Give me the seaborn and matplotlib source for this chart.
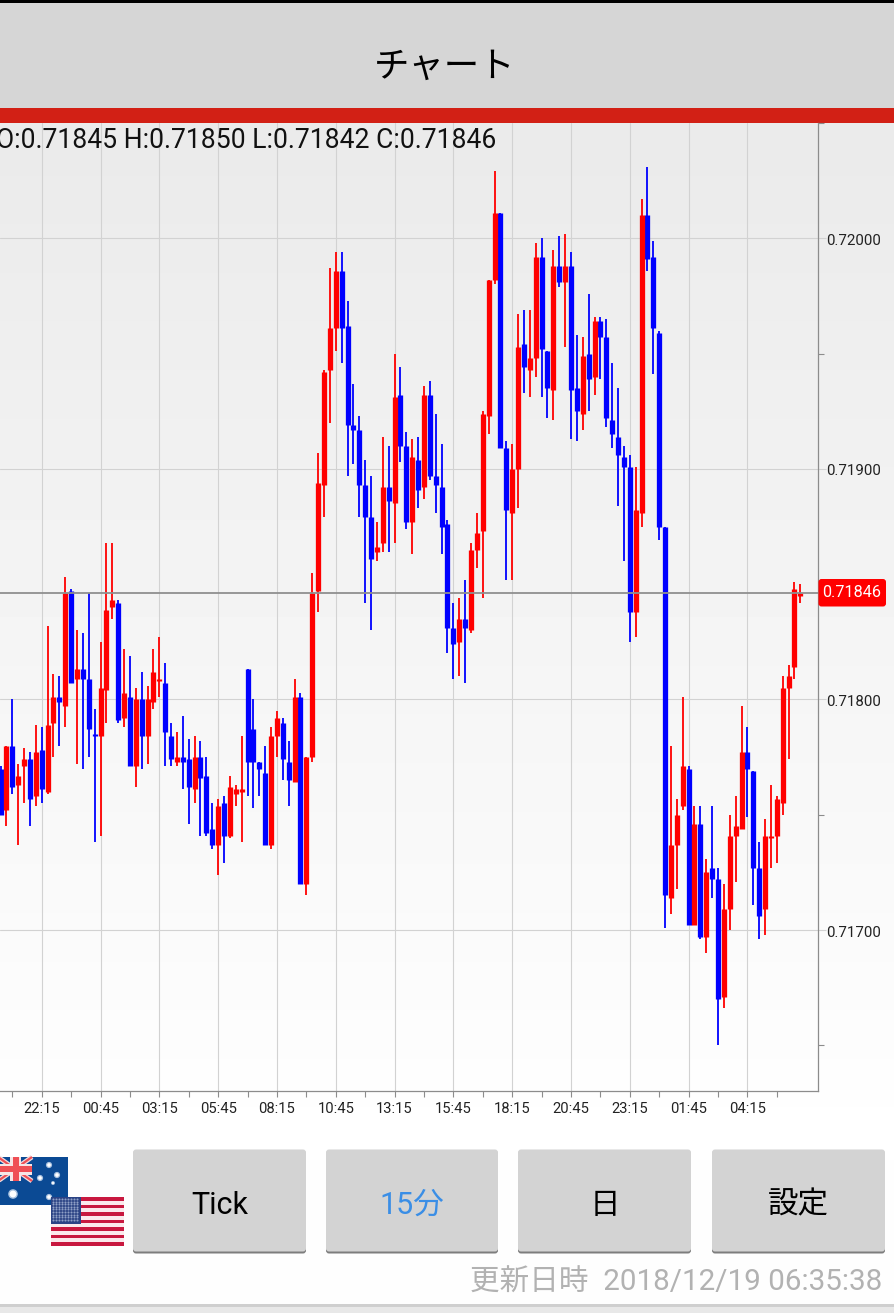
import numpy as np
import pandas as pd
import matplotlib
matplotlib.use("Agg")
import matplotlib.pyplot as plt
from matplotlib.patches import FancyBboxPatch, Rectangle
from matplotlib.transforms import ScaledTranslation
import seaborn as sns

# prices are kept in points (1 point = 0.00001)
opens = [71770, 71752, 71780, 71763, 71771, 71774, 71758,
         71778, 71760, 71790, 71801, 71797, 71847, 71809, 71813, 71809, 71785,
         71784, 71804, 71840, 71842, 71792, 71801, 71771, 71800, 71784, 71799,
         71808, 71807, 71784, 71773, 71775, 71774, 71761, 71775, 71767, 71744,
         71737, 71755, 71741, 71759, 71760, 71813, 71787, 71773, 71768, 71737,
         71784, 71790, 71773, 71764, 71801, 71720, 71775, 71847, 71893, 71943,
         71961, 71986, 71962, 71919, 71917, 71893, 71879, 71864, 71868, 71892,
         71885, 71932, 71910, 71877, 71904, 71892, 71932, 71897, 71892, 71876,
         71831, 71825, 71835, 71830, 71865, 71873, 71923, 71982, 72011, 71909,
         71881, 71900, 71954, 71943, 71948, 71992, 71951, 71934, 71988, 71981,
         71988, 71935, 71924, 71950, 71940, 71964, 71957, 71921, 71914, 71905,
         71901, 71838, 71881, 72010, 71992, 71959, 71875, 71714, 71737, 71754,
         71770, 71702, 71746, 71697, 71727, 71722, 71671, 71709, 71741, 71744,
         71777, 71769, 71727, 71709, 71740, 71741, 71755, 71805, 71814, 71845]
highs = [71771, 71780, 71800, 71772, 71779, 71777, 71789,
         71788, 71832, 71811, 71810, 71853, 71848, 71830, 71829, 71846, 71796,
         71825, 71868, 71868, 71843, 71822, 71819, 71805, 71812, 71806, 71822,
         71827, 71816, 71790, 71786, 71793, 71783, 71784, 71782, 71775, 71755,
         71757, 71758, 71767, 71763, 71784, 71813, 71800, 71773, 71780, 71788,
         71795, 71792, 71782, 71809, 71803, 71775, 71855, 71907, 71943, 71987,
         71994, 71994, 71973, 71937, 71923, 71904, 71897, 71877, 71914, 71910,
         71950, 71944, 71916, 71913, 71914, 71936, 71938, 71924, 71911, 71878,
         71842, 71844, 71852, 71868, 71881, 71925, 71982, 72029, 72011, 71912,
         71911, 71967, 71969, 71969, 71998, 72000, 71951, 71995, 72001, 72002,
         71994, 71958, 71957, 71976, 71966, 71966, 71965, 71946, 71935, 71910,
         71906, 71901, 72017, 72031, 71999, 71960, 71875, 71780, 71757, 71801,
         71771, 71754, 71754, 71731, 71754, 71727, 71720, 71750, 71758, 71797,
         71788, 71769, 71738, 71748, 71763, 71758, 71810, 71815, 71851, 71850]
lows = [71750, 71745, 71759, 71737, 71755, 71745, 71754,
        71755, 71759, 71775, 71780, 71788, 71807, 71772, 71770, 71775, 71738,
        71741, 71790, 71835, 71790, 71788, 71771, 71762, 71770, 71772, 71796,
        71801, 71771, 71771, 71771, 71761, 71746, 71755, 71741, 71741, 71735,
        71724, 71729, 71740, 71754, 71738, 71758, 71753, 71758, 71737, 71735,
        71775, 71765, 71754, 71764, 71720, 71715, 71773, 71838, 71879, 71920,
        71951, 71946, 71897, 71902, 71879, 71842, 71830, 71860, 71864, 71864,
        71868, 71903, 71874, 71863, 71883, 71887, 71895, 71881, 71863, 71820,
        71809, 71810, 71807, 71829, 71857, 71844, 71915, 71980, 71909, 71852,
        71852, 71883, 71933, 71931, 71940, 71931, 71922, 71921, 71979, 71953,
        71913, 71912, 71917, 71925, 71932, 71939, 71918, 71909, 71884, 71860,
        71825, 71827, 71875, 71986, 71941, 71869, 71701, 71707, 71718, 71752,
        71702, 71702, 71696, 71690, 71714, 71650, 71666, 71700, 71721, 71744,
        71749, 71711, 71696, 71698, 71727, 71729, 71750, 71774, 71809, 71842]
closes = [71750, 71780, 71762, 71767, 71774, 71757, 71777,
          71761, 71789, 71801, 71799, 71846, 71807, 71813, 71809, 71787, 71784,
          71805, 71839, 71843, 71791, 71803, 71771, 71800, 71784, 71800, 71812,
          71809, 71786, 71774, 71775, 71773, 71762, 71775, 71766, 71742, 71737,
          71754, 71741, 71762, 71761, 71761, 71773, 71773, 71770, 71737, 71784,
          71792, 71774, 71765, 71801, 71720, 71775, 71846, 71894, 71942, 71961,
          71986, 71961, 71919, 71917, 71893, 71879, 71861, 71866, 71892, 71886,
          71931, 71910, 71877, 71905, 71891, 71932, 71897, 71893, 71875, 71831,
          71824, 71835, 71831, 71865, 71872, 71924, 71982, 72011, 71909, 71882,
          71900, 71953, 71944, 71948, 71992, 71952, 71935, 71988, 71981, 71988,
          71934, 71925, 71949, 71939, 71964, 71957, 71922, 71915, 71906, 71901,
          71838, 71882, 72010, 71991, 71961, 71875, 71715, 71737, 71750, 71771,
          71702, 71746, 71697, 71725, 71722, 71670, 71709, 71741, 71745, 71777,
          71770, 71727, 71706, 71741, 71741, 71757, 71805, 71810, 71848, 71846]

first_index = -7
time_ticks = [0, 10, 20, 30, 40, 50, 60, 70, 80, 90, 100, 110, 120]
time_labels = ["22:15", "00:45", "03:15", "05:45", "08:15", "10:45", "13:15",
               "15:45", "18:15", "20:45", "23:15", "01:45", "04:15"]
minor_time_ticks = [-5, 5, 15, 25, 35, 45, 55, 65, 75, 85, 95, 105, 115, 125]
price_ticks = [0.72, 0.719, 0.718, 0.717]
price_labels = ["0.72000", "0.71900", "0.71800", "0.71700"]
minor_price_ticks = [0.7205, 0.7195, 0.7185, 0.7175, 0.7165]
last_price = 0.71846
ohlc_text = "O:0.71845 H:0.71850 L:0.71842 C:0.71846"

W, H = 895, 1313
RED = "#ff0000"
BLUE = "#0000ff"

sns.set_theme(style="white")
plt.rcParams["font.family"] = ["Roboto", "Noto Sans CJK JP", "DejaVu Sans"]


def candle_frames():
    df = pd.DataFrame({"o": opens, "h": highs, "l": lows, "c": closes}) / 1e5
    df["idx"] = np.arange(len(df)) + first_index
    df["dir"] = np.where(df["c"] >= df["o"], "up", "down")
    wicks = df.melt(id_vars=["idx", "dir"], value_vars=["h", "l"], value_name="price")
    bodies = df.melt(id_vars=["idx", "dir"], value_vars=["o", "c"], value_name="price")
    return wicks.sort_values("idx"), bodies.sort_values("idx")


def px_rect(ax, x0, y0, x1, y1, color, z=1):
    ax.add_patch(Rectangle((x0, y0), x1 - x0, y1 - y0, fc=color, ec="none", zorder=z))


def draw_button(ui, x0, x1, label, color="#000000"):
    ui.add_patch(FancyBboxPatch((x0, 1152), x1 - x0, 101.5, boxstyle="round,pad=0,rounding_size=3",
                                fc="#7d7d7d", ec="none", zorder=2))
    ui.add_patch(FancyBboxPatch((x0, 1149.5), x1 - x0, 102, boxstyle="round,pad=0,rounding_size=3",
                                fc="#d3d3d3", ec="none", zorder=3))
    ui.text((x0 + x1) / 2, 1205, label, color=color, fontsize=22, ha="center", va="center", zorder=4)


def draw_flags(ui):
    # australia
    px_rect(ui, 0, 1157, 68, 1205, "#0b4a94", 2)
    ui.plot([-2, 32], [1157, 1181], color="#f2dede", lw=3.4, zorder=3, solid_capstyle="butt")
    ui.plot([-2, 32], [1181, 1157], color="#f2dede", lw=3.4, zorder=3, solid_capstyle="butt")
    ui.plot([-2, 32], [1157, 1181], color="#ef4f55", lw=1.6, zorder=4, solid_capstyle="butt")
    ui.plot([-2, 32], [1181, 1157], color="#ef4f55", lw=1.6, zorder=4, solid_capstyle="butt")
    px_rect(ui, 10.5, 1157, 21.5, 1181, "#f7e6e6", 4)
    px_rect(ui, 0, 1163.5, 32, 1174.5, "#f7e6e6", 4)
    px_rect(ui, 13, 1157, 19, 1181, "#ef4f55", 5)
    px_rect(ui, 0, 1166, 32, 1172, "#ef4f55", 5)
    star_x, star_y = [49, 40, 57, 53, 49, 13], [1165, 1178, 1175, 1183, 1197, 1194]
    ui.scatter(star_x, star_y, s=[20, 20, 20, 8, 20, 48], color="#a9c2df", linewidths=0, zorder=3)
    ui.scatter(star_x, star_y, s=[7, 7, 7, 2.5, 7, 24], color="white", linewidths=0, zorder=3)
    # usa
    px_rect(ui, 51, 1197, 124, 1246, "#fbe9ec", 5)
    stripe_h = 49 / 13
    for i in range(0, 13, 2):
        px_rect(ui, 51, 1197 + i * stripe_h, 124, 1197 + (i + 1) * stripe_h, "#c8183f", 6)
    px_rect(ui, 51, 1197, 81, 1223.5, "#2b4385", 7)
    xs, ys = np.meshgrid(np.arange(53, 80, 3), np.arange(1199, 1222, 2.6))
    ui.scatter(xs.ravel(), ys.ravel(), s=2.2, color="#8f9fc6", linewidths=0, zorder=8)


fig = plt.figure(figsize=(W / 100, H / 100), dpi=100)
fig.patch.set_facecolor("#fefefe")

# page background and all the app chrome, in pixel coordinates
ui = fig.add_axes([0, 0, 1, 1], zorder=0)
ui.set_xlim(0, W)
ui.set_ylim(H, 0)
ui.axis("off")
shade = np.linspace(0.918, 1.0, 256).reshape(-1, 1)
ui.imshow(shade, cmap="gray", vmin=0, vmax=1, extent=(0, W, 1160, 123), aspect="auto", zorder=0)
ui.set_xlim(0, W)
ui.set_ylim(H, 0)
px_rect(ui, 0, 0, W, 3, "#000000")
px_rect(ui, 0, 3, W, 108, "#d6d6d6")
px_rect(ui, 0, 108, W, 123, "#d22015")
px_rect(ui, 0, 1304, W, 1307, "#cfcfcf")
px_rect(ui, 0, 1307, W, H, "#e8e8e8")
ui.text(445, 67, "チャート", color="#000000", fontsize=25.5, ha="center", va="center")
draw_flags(ui)
draw_button(ui, 133, 306, "Tick")
draw_button(ui, 326, 498, "15分", "#3a8ee6")
draw_button(ui, 518, 691, "日")
draw_button(ui, 712, 885, "設定")
ui.text(882, 1283, "更新日時  2018/12/19 06:35:38", color="#b2b2b2", fontsize=21.3, ha="right", va="center")

# chart axes spans x 0..818 and y 123..1091 on the page
ax = fig.add_axes([0, 1 - 1091 / H, 818 / W, (1091 - 123) / H], zorder=1)
ax.patch.set_alpha(0)

wicks, bodies = candle_frames()
palette = {"up": RED, "down": BLUE}
sns.lineplot(data=wicks, x="idx", y="price", hue="dir", units="idx", estimator=None, palette=palette,
             lw=1.3, legend=False, ax=ax, solid_capstyle="butt", zorder=3)
sns.lineplot(data=bodies, x="idx", y="price", hue="dir", units="idx", estimator=None, palette=palette,
             lw=3.8, legend=False, ax=ax, solid_capstyle="butt", zorder=3)

ax.set_xlim(-7.09, 132.0)
ax.set_ylim(0.716302, 0.720499)
ax.set_xlabel("")
ax.set_ylabel("")

ax.set_xticks(time_ticks)
ax.set_xticklabels(time_labels)
ax.set_xticks(minor_time_ticks, minor=True)
ax.yaxis.tick_right()
ax.set_yticks(price_ticks)
ax.set_yticklabels(price_labels)
ax.set_yticks(minor_price_ticks, minor=True)
ax.grid(True, which="major", color="#d2d2d2", lw=0.8, zorder=1)
ax.set_axisbelow(True)
ax.tick_params(axis="x", which="both", bottom=True, length=4, width=0.8, color="#8c8c8c", pad=4)
ax.tick_params(axis="x", which="major", labelsize=10.6, labelcolor="#222222")
ax.tick_params(axis="y", which="minor", right=True, length=4.5, width=0.8, color="#8c8c8c")
ax.tick_params(axis="y", which="major", right=True, labelsize=10.8, labelcolor="#222222",
               length=5.6, width=0.8, color="#d2d2d2", pad=0.2)
# price labels sit a pixel lower than their tick
nudge = ScaledTranslation(0, -1 / 100, fig.dpi_scale_trans)
for label in ax.get_yticklabels():
    label.set_transform(label.get_transform() + nudge)
for side in ["left", "top"]:
    ax.spines[side].set_visible(False)
for side in ["right", "bottom"]:
    ax.spines[side].set_color("#8c8c8c")
    ax.spines[side].set_linewidth(0.9)

ax.axhline(last_price, color="#8f8f8f", lw=1.3, zorder=4)

# overlay for text above the plot and the current price tag
top = fig.add_axes([0, 0, 1, 1], zorder=2)
top.set_xlim(0, W)
top.set_ylim(H, 0)
top.axis("off")
top.text(-4, 141, ohlc_text, color="#111111", fontsize=19.1, ha="left", va="center")
top.add_patch(FancyBboxPatch((818.5, 579), 67.5, 27.5, boxstyle="round,pad=0,rounding_size=3", fc="#ff0000", ec="none"))
top.text(852, 592.5, f"{last_price:.5f}", color="white", fontsize=11.7, ha="center", va="center")

fig.savefig("out.png", dpi=100)
